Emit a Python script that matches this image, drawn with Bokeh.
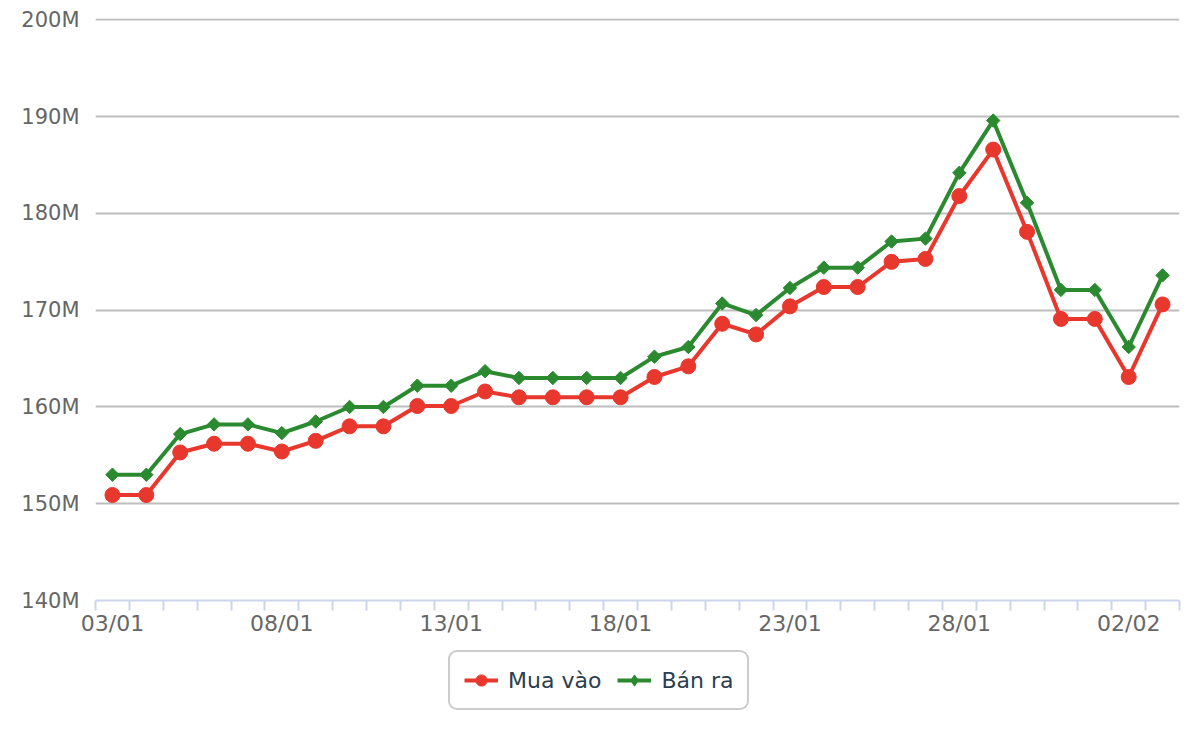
import numpy as np
from bokeh.plotting import figure
from bokeh.layouts import column
from bokeh.models import FixedTicker, Legend, LegendItem, Range1d, ColumnDataSource
from bokeh.embed import file_html
from bokeh.resources import INLINE

# ---- data (values in million VND) ----
dates = ["%02d/01" % d for d in range(3, 32)] + ["01/02", "02/02", "03/02"]
mua_vao = [150.9, 150.9, 155.3, 156.2, 156.2, 155.4, 156.5, 158.0, 158.0, 160.1,
           160.1, 161.6, 161.0, 161.0, 161.0, 161.0, 163.1, 164.2, 168.6, 167.5,
           170.4, 172.4, 172.4, 175.0, 175.3, 181.8, 186.6, 178.1, 169.1, 169.1,
           163.1, 170.6]
ban_ra = [153.0, 153.0, 157.2, 158.2, 158.2, 157.3, 158.5, 160.0, 160.0, 162.2,
          162.2, 163.7, 163.0, 163.0, 163.0, 163.0, 165.2, 166.2, 170.7, 169.5,
          172.3, 174.4, 174.4, 177.1, 177.4, 184.2, 189.6, 181.1, 172.1, 172.1,
          166.2, 173.6]
y_ticks = [140, 150, 160, 170, 180, 190, 200]
series_names = ["Mua vào", "Bán ra"]
label_every = 5

RED = "#e8382d"
GREEN = "#2b8a30"
FONT = "DejaVu Sans"

x = list(range(len(dates)))
src = ColumnDataSource(dict(x=x, mua=mua_vao, ban=ban_ra))

p = figure(width=1184, height=645, output_backend="svg", toolbar_location=None,
           x_range=Range1d(-0.5, len(dates) - 0.5),
           y_range=Range1d(y_ticks[0], y_ticks[-1] + 0.15),
           min_border_left=95, min_border_right=5, min_border_top=18, min_border_bottom=45)
p.outline_line_color = None
p.background_fill_color = "white"
p.border_fill_color = "white"

# grid
p.xgrid.grid_line_color = None
p.ygrid.grid_line_color = "#bdbdbd"
p.ygrid.grid_line_width = 2

# y axis
p.yaxis.ticker = FixedTicker(ticks=y_ticks)
p.yaxis.major_label_overrides = {t: "%dM" % t for t in y_ticks}
p.yaxis.axis_line_color = None
p.yaxis.major_tick_line_color = None
p.yaxis.minor_tick_line_color = None
p.yaxis.major_tick_out = 0
p.yaxis.major_tick_in = 0
p.yaxis.major_label_standoff = 16
p.yaxis.major_label_text_font = FONT
p.yaxis.major_label_text_font_size = "21px"
p.yaxis.major_label_text_color = "#666666"

# x axis
major = [i for i in x if i % label_every == 0]
minor = [i - 0.5 for i in x] + [len(dates) - 0.5]
p.xaxis.ticker = FixedTicker(ticks=major, minor_ticks=minor)
p.xaxis.major_label_overrides = {i: dates[i] for i in major}
p.xaxis.axis_line_color = "#ccd6eb"
p.xaxis.axis_line_width = 2
p.xaxis.major_tick_line_color = None
p.xaxis.major_tick_out = 0
p.xaxis.major_tick_in = 0
p.xaxis.minor_tick_line_color = "#ccd6eb"
p.xaxis.minor_tick_line_width = 2
p.xaxis.minor_tick_out = 10
p.xaxis.minor_tick_in = 0
p.xaxis.major_label_standoff = 0
p.xaxis.major_label_text_font = FONT
p.xaxis.major_label_text_font_size = "22px"
p.xaxis.major_label_text_color = "#666666"

# series
p.line("x", "mua", source=src, line_color=RED, line_width=4)
p.scatter("x", "mua", source=src, marker="circle", size=15,
          fill_color=RED, line_color=RED)
p.line("x", "ban", source=src, line_color=GREEN, line_width=4)
p.scatter("x", "ban", source=src, marker="square", angle=np.pi / 4, size=9.5,
          fill_color=GREEN, line_color=GREEN)

# ---- legend strip ----
lg = figure(width=1184, height=80, output_backend="svg", toolbar_location=None,
            x_range=Range1d(0, 1), y_range=Range1d(0, 1),
            x_axis_type=None, y_axis_type=None,
            min_border_left=95, min_border_right=5, min_border_top=0, min_border_bottom=0)
lg.outline_line_color = None
lg.xgrid.visible = False
lg.ygrid.visible = False
# legend-only renderers, placed outside the visible range
off = ColumnDataSource(dict(x=[-10, -9], y=[-10, -10]))
dl1 = lg.line("x", "y", source=off, line_color=RED, line_width=4)
ds1 = lg.scatter("x", "y", source=off, marker="circle", size=15,
                 fill_color=RED, line_color=RED)
dl2 = lg.line("x", "y", source=off, line_color=GREEN, line_width=4)
ds2 = lg.scatter("x", "y", source=off, marker="diamond", size=15,
                 fill_color=GREEN, line_color=GREEN)

legend = Legend(items=[LegendItem(label=series_names[0], renderers=[dl1, ds1]),
                       LegendItem(label=series_names[1], renderers=[dl2, ds2])],
                orientation="horizontal", location=(353, 15), margin=0,
                padding=14, spacing=16, glyph_width=34, glyph_height=28,
                label_standoff=10, label_text_font=FONT, label_text_font_size="22px",
                label_text_color="#2b3e50", border_line_color="#999999",
                border_line_width=2, background_fill_color="white",
                background_fill_alpha=1.0)
try:
    legend.border_radius = 9
except Exception:
    pass
lg.add_layout(legend, "center")

layout = column(p, lg, spacing=0)
open("out.html", "w").write(file_html(layout, INLINE))
